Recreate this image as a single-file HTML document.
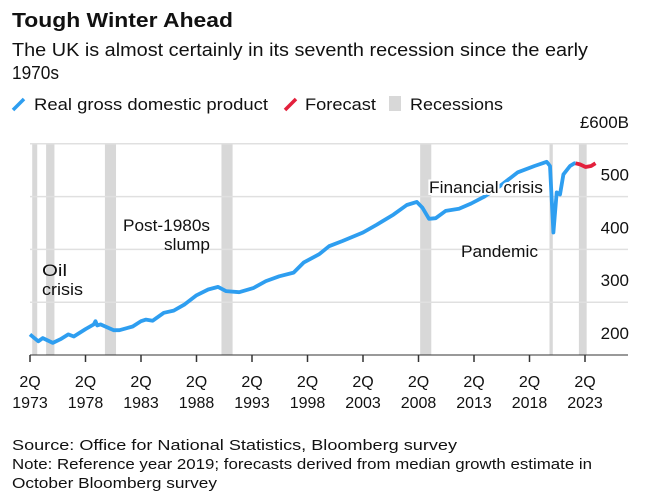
<!DOCTYPE html>
<html><head><meta charset="utf-8"><style>
body{margin:0;background:#fff;font-family:"Liberation Sans",Arial,sans-serif;}
svg text{font-family:"Liberation Sans",Arial,sans-serif;fill:#111;}
</style></head><body>
<svg id="chart" width="652" height="497" viewBox="0 0 652 497">
<text x="12" y="27" font-size="20" font-weight="bold" textLength="221" lengthAdjust="spacingAndGlyphs">Tough Winter Ahead</text>
<text x="12" y="56" font-size="18" fill="#222" textLength="576" lengthAdjust="spacingAndGlyphs">The UK is almost certainly in its seventh recession since the early</text>
<text x="12" y="79" font-size="18" fill="#222" textLength="47" lengthAdjust="spacingAndGlyphs">1970s</text>
<g font-size="17">
<line x1="13" y1="110" x2="24" y2="99" stroke="#2e9ef0" stroke-width="3.5"/>
<text x="34" y="110" textLength="234" lengthAdjust="spacingAndGlyphs">Real gross domestic product</text>
<line x1="285" y1="110" x2="296" y2="99" stroke="#e3203c" stroke-width="3.5"/>
<text x="305" y="110" textLength="71" lengthAdjust="spacingAndGlyphs">Forecast</text>
<rect x="389" y="96" width="12" height="15" fill="#d8d8d8"/>
<text x="410" y="110" textLength="93" lengthAdjust="spacingAndGlyphs">Recessions</text>
</g>
<g id="plot"></g>
<text x="12" y="450" font-size="15" textLength="445" lengthAdjust="spacingAndGlyphs">Source: Office for National Statistics, Bloomberg survey</text>
<text x="12" y="469" font-size="15" textLength="580" lengthAdjust="spacingAndGlyphs">Note: Reference year 2019; forecasts derived from median growth estimate in</text>
<text x="12" y="488" font-size="15" textLength="205" lengthAdjust="spacingAndGlyphs">October Bloomberg survey</text>
</svg>
<script>
const yTicks=[200,300,400,500,600];
const xTickYears=[1973,1978,1983,1988,1993,1998,2003,2008,2013,2018,2023];
const recessionStarts=[1973.45,1974.7,1980.0,1990.5,2008.4,2020.05,2022.7];
const recessionEnds=[1973.9,1975.45,1981.0,1991.5,2009.4,2020.35,2023.4];
const gdpYears=[1973.25,1974.0,1974.4,1975.3,1976.0,1976.7,1977.2,1978.25,1979.0,1979.15,1979.3,1979.6,1980.8,1981.3,1982.5,1983.25,1983.7,1984.3,1985.3,1986.2,1987.2,1988.25,1989.3,1990.2,1990.9,1992.1,1993.4,1994.5,1995.7,1997.0,1997.9,1999.3,2000.2,2001.4,2003.25,2004.5,2006.0,2007.2,2008.1,2008.6,2009.2,2009.8,2010.7,2011.9,2013.0,2014.2,2015.4,2017.2,2018.7,2019.8,2020.1,2020.4,2020.7,2021.0,2021.3,2021.9,2022.3,2022.4];
const gdpValues=[239,226,232,223,230,239,235,249,258,264,256,258,247,247,254,264,267,265,280,284,296,313,324,329,321,319,327,340,349,356,375,391,406,416,432,447,466,484,490,479,458,459,473,477,487,500,517,546,558,566,558,432,508,504,542,558,563,563];
const forecastYears=[2022.4,2022.8,2023.3,2023.8,2024.2];
const forecastValues=[563,561,556,558,563];
const NS="http://www.w3.org/2000/svg";
const X0=30,PX=11.1,Y0=355,PY=0.528;
function xs(yr){return X0+(yr-1973.25)*PX;}
function ys(v){return Y0-(v-200)*PY;}
const g=document.getElementById('plot');
function mk(t,a){const e=document.createElementNS(NS,t);for(const k in a)e.setAttribute(k,a[k]);g.appendChild(e);return e;}
for(let i=0;i<recessionStarts.length;i++){
 const r=mk('rect',{x:xs(recessionStarts[i]),y:ys(600),width:xs(recessionEnds[i])-xs(recessionStarts[i]),height:ys(200)-ys(600),fill:'#d8d8d8'});
 
 
}
yTicks.forEach(v=>{
 if(v>200){const l=mk('line',{x1:X0,x2:628,y1:ys(v),y2:ys(v),stroke:'#e0e0e0','stroke-width':1.5});
 
 }
 const t=mk('text',{x:629,y:ys(v)-16,'font-size':17,'text-anchor':'end'});
 t.textContent=v===600?'£600B':String(v);
 
 
});
const base=mk('line',{x1:X0,x2:628,y1:Y0,y2:Y0,stroke:'#333','stroke-width':1});


xTickYears.forEach(yr=>{
 const x=xs(yr+0.25);
 const tk=mk('line',{x1:x,x2:x,y1:Y0,y2:Y0+7,stroke:'#333','stroke-width':1.5});
 
 
 const t1=mk('text',{x:x,y:387,'font-size':16,'text-anchor':'middle'});t1.textContent='2Q';
 
 
 const t2=mk('text',{x:x,y:408,'font-size':16,'text-anchor':'middle'});t2.textContent=String(yr);
 
 
});
function path(xa,va){return xa.map((y,i)=>(i?'L':'M')+xs(y).toFixed(1)+','+ys(va[i]).toFixed(1)).join('');}
const gl=mk('path',{d:path(gdpYears,gdpValues),fill:'none',stroke:'#2e9ef0','stroke-width':3.8,'stroke-linejoin':'round'});


const fl=mk('path',{d:path(forecastYears,forecastValues),fill:'none',stroke:'#e3203c','stroke-width':3.8,'stroke-linejoin':'round'});


function ann(txt,x,y,anchor,name,halo,len){
 const t=mk('text',{x:x,y:y,'font-size':17,'text-anchor':anchor,textLength:len,lengthAdjust:'spacingAndGlyphs'});t.textContent=txt;
 if(halo){t.setAttribute('stroke','#fff');t.setAttribute('stroke-width','4');t.setAttribute('paint-order','stroke');}
 
 
}
ann('Oil',42,276,'start','oil-crisis-label',false,25);
ann('crisis',42,295,'start','oil-crisis-label-line2',false,41);
ann('Post-1980s',210,231,'end','post-1980s-slump-label',false,87);
ann('slump',210,250,'end','post-1980s-slump-label-line2',false,46);
ann('Financial crisis',429,193,'start','financial-crisis-label',true,114);
ann('Pandemic',461,257,'start','pandemic-label',false,77);
</script>
</body></html>
